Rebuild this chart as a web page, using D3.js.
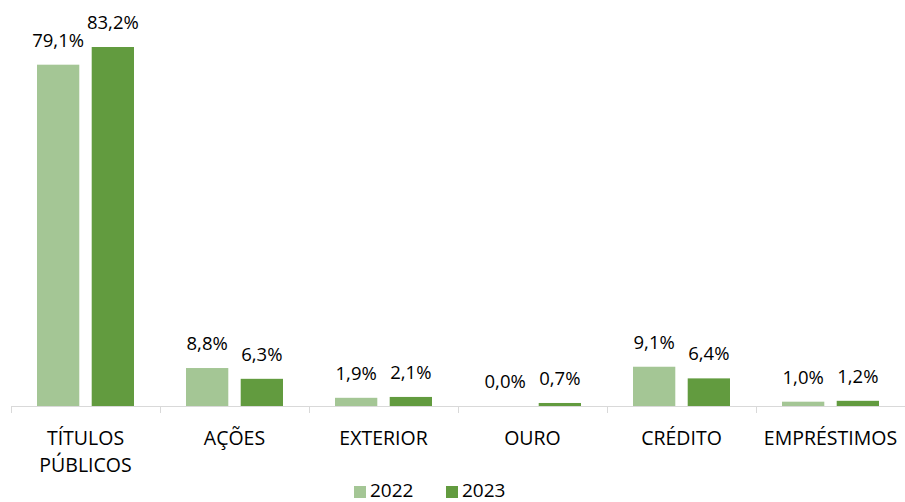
<!DOCTYPE html>
<html><head><meta charset="utf-8">
<script src="https://cdn.jsdelivr.net/npm/d3@7"></script>
<style>body{margin:0;background:#fff}svg{display:block}text{font-family:"Open Sans",Lato,sans-serif;fill:#000}</style>
</head><body><svg id="c" width="905" height="502"></svg>
<script>
const categories = ["TÍTULOS PÚBLICOS","AÇÕES","EXTERIOR","OURO","CRÉDITO","EMPRÉSTIMOS"];
const categoryLines = [["TÍTULOS","PÚBLICOS"],["AÇÕES"],["EXTERIOR"],["OURO"],["CRÉDITO"],["EMPRÉSTIMOS"]];
const seriesNames = ["2022","2023"];
const values2022 = [79.1, 8.8, 1.9, 0.0, 9.1, 1.0];
const values2023 = [83.2, 6.3, 2.1, 0.7, 6.4, 1.2];
const colors = ["#A4C695","#629B3F"];

const svg = d3.select("#c");
const baseY = 406;
const x = d3.scaleBand().domain(categories).range([11, 905]).paddingInner(0).paddingOuter(0);
const x1 = d3.scaleBand().domain(seriesNames).range([26, x.bandwidth()-26]).paddingInner(11/97*2).paddingOuter(0);
const y = d3.scaleLinear().domain([0, 83.2]).range([baseY, 47]);
const fmt = v => v.toFixed(1).replace(".", ",") + "%";
const series = [values2022, values2023];

// axis
const ax = svg.append("g").attr("transform",`translate(0,${baseY})`)
  .call(d3.axisBottom(x).tickSize(0).tickFormat(""));
ax.select(".domain").attr("stroke","#d9d9d9").attr("d",`M11,0.5H905`);
const tickPos = categories.map(c=>x(c)).concat([x(categories[categories.length-1])+x.bandwidth()]);
svg.append("g").selectAll("line").data(tickPos).join("line")
  .attr("x1",d=>d+0.5).attr("x2",d=>d+0.5).attr("y1",baseY).attr("y2",baseY+7)
  .attr("stroke","#d9d9d9");

const g = svg.append("g");
series.forEach((vals,si)=>{
  g.selectAll(null).data(vals).join("rect")
    .attr("x",(d,i)=>x(categories[i])+x1(seriesNames[si]))
    .attr("width",x1.bandwidth())
    .attr("y",d=>y(d))
    .attr("height",d=>baseY-y(d))
    .attr("fill",colors[si]);
  g.selectAll(null).data(vals).join("text")
    .attr("x",(d,i)=>x(categories[i])+x1(seriesNames[si])+x1.bandwidth()/2)
    .attr("y",d=>y(d)-18)
    .attr("text-anchor","middle")
    .style("font-size","18.5px")
    .text(d=>fmt(d));
});

// category labels
categoryLines.forEach((lines,i)=>{
  const cx = x(categories[i])+x.bandwidth()/2;
  const t = svg.append("text").attr("text-anchor","middle").style("font-size","19.5px")
    .attr("x", cx).attr("y",445);
  lines.forEach((l,j)=>t.append("tspan").attr("x",cx).attr("dy",j?27:0).text(l));
});

// legend
const leg = svg.append("g");
const legX = [354, 446];
seriesNames.forEach((s,i)=>{
  leg.append("rect").attr("x",legX[i]).attr("y",486).attr("width",12).attr("height",12).attr("fill",colors[i]);
  leg.append("text").attr("x",legX[i]+16).attr("y",497).style("font-size","19px").text(s);
});
</script></body></html>
